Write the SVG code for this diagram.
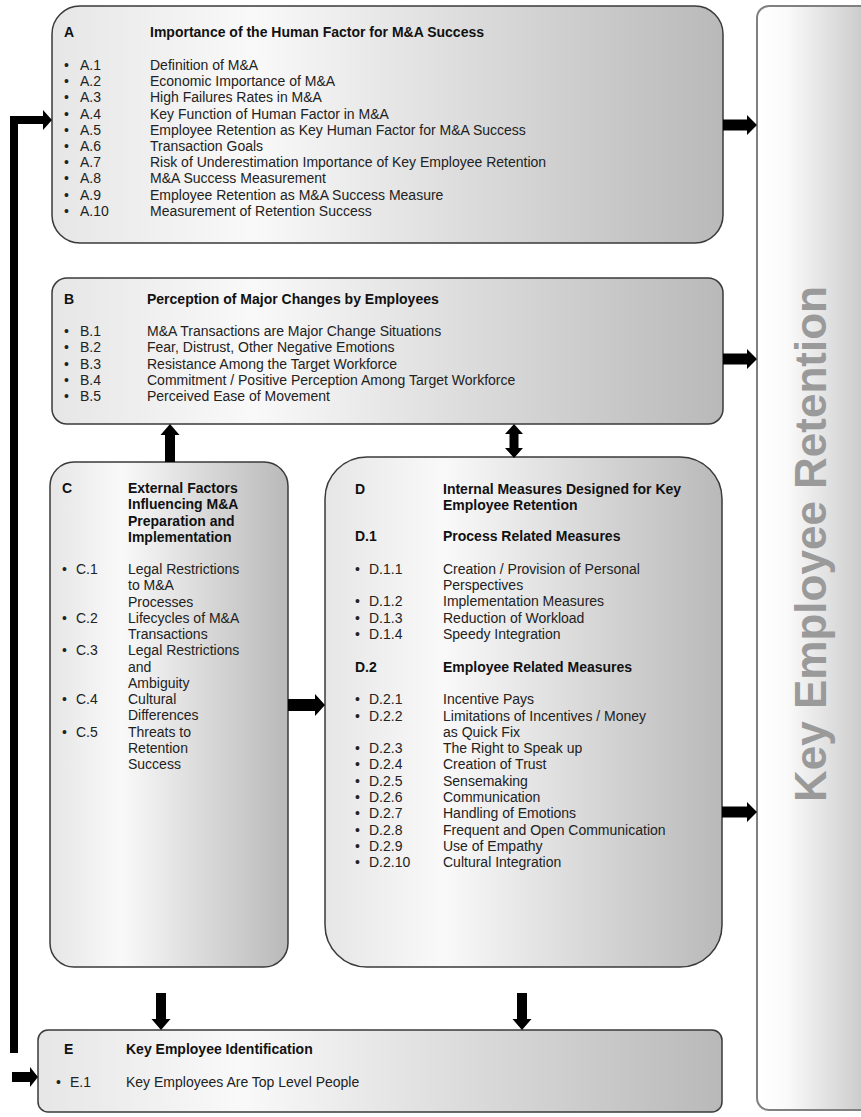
<svg xmlns="http://www.w3.org/2000/svg" width="861" height="1117" viewBox="0 0 861 1117">
<defs>
<linearGradient id="g" x1="0" y1="0" x2="1" y2="0">
<stop offset="0" stop-color="#e6e6e6"/>
<stop offset="0.3" stop-color="#f9f9f9"/>
<stop offset="1" stop-color="#b9b9b9"/>
</linearGradient>
<linearGradient id="gc" x1="0" y1="0" x2="1" y2="0">
<stop offset="0" stop-color="#ffffff"/>
<stop offset="0.25" stop-color="#fafafa"/>
<stop offset="1" stop-color="#c3c3c3"/>
</linearGradient>
<style>
.box{fill:url(#g);stroke:#3a3a3a;stroke-width:1.5}
.col{fill:url(#gc);stroke:#808080;stroke-width:2}
text{font-family:"Liberation Sans",Arial,sans-serif;font-size:14px;fill:#222}
.b{font-weight:bold;fill:#111}
.big{font-size:44px;font-weight:bold;fill:#9a9a9a}
.arr{fill:#000}
</style>
</defs>
<rect width="861" height="1117" fill="#fff"/>

<g id="retention">
<rect class="col" x="757" y="6" width="120" height="1104" rx="12"/>
<text class="big" transform="translate(826,544) rotate(-90)" text-anchor="middle">Key Employee Retention</text>
</g>

<g id="A">
<rect class="box" x="52" y="6" width="671" height="237" rx="28"/>
<text class="b" x="64" y="37">A</text>
<text class="b" x="150" y="37">Importance of the Human Factor for M&amp;A Success</text>
<g>
<text x="64" y="70">•</text><text x="80" y="70">A.1</text><text x="150" y="70">Definition of M&amp;A</text>
<text x="64" y="86.2">•</text><text x="80" y="86.2">A.2</text><text x="150" y="86.2">Economic Importance of M&amp;A</text>
<text x="64" y="102.4">•</text><text x="80" y="102.4">A.3</text><text x="150" y="102.4">High Failures Rates in M&amp;A</text>
<text x="64" y="118.6">•</text><text x="80" y="118.6">A.4</text><text x="150" y="118.6">Key Function of Human Factor in M&amp;A</text>
<text x="64" y="134.8">•</text><text x="80" y="134.8">A.5</text><text x="150" y="134.8">Employee Retention as Key Human Factor for M&amp;A Success</text>
<text x="64" y="151">•</text><text x="80" y="151">A.6</text><text x="150" y="151">Transaction Goals</text>
<text x="64" y="167.2">•</text><text x="80" y="167.2">A.7</text><text x="150" y="167.2">Risk of Underestimation Importance of Key Employee Retention</text>
<text x="64" y="183.4">•</text><text x="80" y="183.4">A.8</text><text x="150" y="183.4">M&amp;A Success Measurement</text>
<text x="64" y="199.6">•</text><text x="80" y="199.6">A.9</text><text x="150" y="199.6">Employee Retention as M&amp;A Success Measure</text>
<text x="64" y="215.8">•</text><text x="80" y="215.8">A.10</text><text x="150" y="215.8">Measurement of Retention Success</text>
</g>
</g>

<g id="B">
<rect class="box" x="52" y="278" width="671" height="146" rx="15"/>
<text class="b" x="64" y="304">B</text>
<text class="b" x="147" y="304">Perception of Major Changes by Employees</text>
<text x="64" y="336">•</text><text x="80" y="336">B.1</text><text x="147" y="336">M&amp;A Transactions are Major Change Situations</text>
<text x="64" y="352.25">•</text><text x="80" y="352.25">B.2</text><text x="147" y="352.25">Fear, Distrust, Other Negative Emotions</text>
<text x="64" y="368.5">•</text><text x="80" y="368.5">B.3</text><text x="147" y="368.5">Resistance Among the Target Workforce</text>
<text x="64" y="384.75">•</text><text x="80" y="384.75">B.4</text><text x="147" y="384.75">Commitment / Positive Perception Among Target Workforce</text>
<text x="64" y="401">•</text><text x="80" y="401">B.5</text><text x="147" y="401">Perceived Ease of Movement</text>
</g>

<g id="C">
<rect class="box" x="50" y="462" width="238" height="505" rx="24"/>
<text class="b" x="62" y="493">C</text>
<text class="b" x="128" y="493">External Factors</text>
<text class="b" x="128" y="509.3">Influencing M&amp;A</text>
<text class="b" x="128" y="525.6">Preparation and</text>
<text class="b" x="128" y="541.9">Implementation</text>
<text x="62" y="574">•</text><text x="76" y="574">C.1</text><text x="128" y="574">Legal Restrictions</text>
<text x="128" y="590.25">to M&amp;A</text>
<text x="128" y="606.5">Processes</text>
<text x="62" y="622.75">•</text><text x="76" y="622.75">C.2</text><text x="128" y="622.75">Lifecycles of M&amp;A</text>
<text x="128" y="639">Transactions</text>
<text x="62" y="655.25">•</text><text x="76" y="655.25">C.3</text><text x="128" y="655.25">Legal Restrictions</text>
<text x="128" y="671.5">and</text>
<text x="128" y="687.75">Ambiguity</text>
<text x="62" y="704">•</text><text x="76" y="704">C.4</text><text x="128" y="704">Cultural</text>
<text x="128" y="720.25">Differences</text>
<text x="62" y="736.5">•</text><text x="76" y="736.5">C.5</text><text x="128" y="736.5">Threats to</text>
<text x="128" y="752.75">Retention</text>
<text x="128" y="769">Success</text>
</g>

<g id="D">
<rect class="box" x="325" y="457" width="397" height="510" rx="42"/>
<text class="b" x="355" y="494">D</text>
<text class="b" x="443" y="494">Internal Measures Designed for Key</text>
<text class="b" x="443" y="510">Employee Retention</text>
<text class="b" x="355" y="541">D.1</text>
<text class="b" x="443" y="541">Process Related Measures</text>
<text x="355" y="574">•</text><text x="369" y="574">D.1.1</text><text x="443" y="574">Creation / Provision of Personal</text>
<text x="443" y="590">Perspectives</text>
<text x="355" y="606">•</text><text x="369" y="606">D.1.2</text><text x="443" y="606">Implementation Measures</text>
<text x="355" y="622.5">•</text><text x="369" y="622.5">D.1.3</text><text x="443" y="622.5">Reduction of Workload</text>
<text x="355" y="639">•</text><text x="369" y="639">D.1.4</text><text x="443" y="639">Speedy Integration</text>
<text class="b" x="355" y="672">D.2</text>
<text class="b" x="443" y="672">Employee Related Measures</text>
<text x="355" y="704">•</text><text x="369" y="704">D.2.1</text><text x="443" y="704">Incentive Pays</text>
<text x="355" y="720.5">•</text><text x="369" y="720.5">D.2.2</text><text x="443" y="720.5">Limitations of Incentives / Money</text>
<text x="443" y="737">as Quick Fix</text>
<text x="355" y="753">•</text><text x="369" y="753">D.2.3</text><text x="443" y="753">The Right to Speak up</text>
<text x="355" y="769.3">•</text><text x="369" y="769.3">D.2.4</text><text x="443" y="769.3">Creation of Trust</text>
<text x="355" y="785.6">•</text><text x="369" y="785.6">D.2.5</text><text x="443" y="785.6">Sensemaking</text>
<text x="355" y="801.9">•</text><text x="369" y="801.9">D.2.6</text><text x="443" y="801.9">Communication</text>
<text x="355" y="818.2">•</text><text x="369" y="818.2">D.2.7</text><text x="443" y="818.2">Handling of Emotions</text>
<text x="355" y="834.5">•</text><text x="369" y="834.5">D.2.8</text><text x="443" y="834.5">Frequent and Open Communication</text>
<text x="355" y="850.8">•</text><text x="369" y="850.8">D.2.9</text><text x="443" y="850.8">Use of Empathy</text>
<text x="355" y="867.1">•</text><text x="369" y="867.1">D.2.10</text><text x="443" y="867.1">Cultural Integration</text>
</g>

<g id="E">
<rect class="box" x="38" y="1030" width="684" height="82" rx="10"/>
<text class="b" x="64" y="1054">E</text>
<text class="b" x="126" y="1054">Key Employee Identification</text>
<text x="56" y="1087">•</text><text x="70" y="1087">E.1</text><text x="126" y="1087">Key Employees Are Top Level People</text>
</g>

<g id="connectors" class="arr">
<path d="M10,1053 L10,116 L43,116 L43,110 L52,120 L43,130 L43,124 L18,124 L18,1053 Z"/>
<path d="M12,1072 L30,1072 L30,1067 L38,1077 L30,1087 L30,1082 L12,1082 Z"/>
<path d="M723,119.5 L747,119.5 L747,115 L757,125 L747,135 L747,130.5 L723,130.5 Z"/>
<path d="M723,353.5 L747,353.5 L747,349 L757,359 L747,369 L747,364.5 L723,364.5 Z"/>
<path d="M722,806.5 L747,806.5 L747,802 L757,812 L747,822 L747,817.5 L722,817.5 Z"/>
<path d="M288,699 L315,699 L315,694 L325,705 L315,716 L315,711 L288,711 Z"/>
<path d="M165,462 L165,435 L160.5,435 L170,424 L179.5,435 L175,435 L175,462 Z"/>
<path d="M514,424 L523,434 L518.5,434 L518.5,448 L523,448 L514,458 L505,448 L509.5,448 L509.5,434 L505,434 Z"/>
<path d="M156,993 L166,993 L166,1019 L170.5,1019 L161,1030 L151.5,1019 L156,1019 Z"/>
<path d="M517,993 L527,993 L527,1019 L531.5,1019 L522,1030 L512.5,1019 L517,1019 Z"/>
</g>
</svg>
